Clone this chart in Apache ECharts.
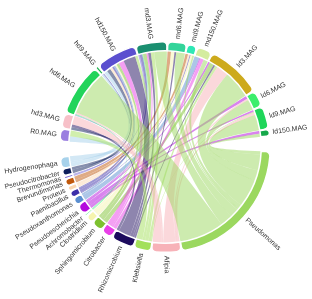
<!DOCTYPE html>
<html><head><meta charset="utf-8">
<script src="https://cdn.jsdelivr.net/npm/echarts@6/dist/echarts.min.js"></script>
<style>html,body{margin:0;padding:0;background:#fff}#c{width:312px;height:299px}</style>
</head><body><div id="c"></div>
<script>
const samples = ['R0.MAG','hd3.MAG','hd6.MAG','hd9.MAG','hd150.MAG','md3.MAG','md6.MAG','md9.MAG','md150.MAG','ld3.MAG','ld6.MAG','ld9.MAG','ld150.MAG'];
const sampleColors = ['#9b7fe0','#f7c0c8','#22d45a','#21b350','#5b4fcf','#1a8f70','#33d49a','#2de8b5','#d4ec9f','#cdaa1c','#3bee6b','#1fd65a','#15a84a'];
const genera = ['Pseudomonas','Afipia','Klebsiella','Rhizomicrobium','Citrobacter','Sphingomicrobium','Clostridium','Achromobacter','Pseudoescherichia','Pseudoxanthomonas','Paenibacillus','Proteus','Brevundimonas','Thermomonas','Pseudocitrobacter','Hydrogenophaga'];
const genusColors = ['#9bd85f','#f7b2b8','#a3e05b','#1d0b5e','#e93fe8','#7dc12f','#f6f4ae','#3deb7b','#b40ade','#5a8ed0','#3b2fa9','#fbd7b0','#c0580b','#7c6dd7','#0d1f5c','#a7d2eb'];
// rows: samples, columns: genera (same order as above)
const abundance = [
  [0, 0, 3.5, 0, 0, 0, 0, 0, 0, 0, 0, 0, 0, 0, 0, 3],
  [0, 5, 0, 1.5, 0, 0, 0, 0, 0, 0, 0, 0, 0, 0, 1.5, 0],
  [25.5, 1, 0, 0, 0, 0, 0, 0.5, 0, 0, 0, 0, 0, 0.5, 0, 0],
  [0, 0, 0, 0, 0, 0, 0, 0, 0, 0, 0.5, 0, 0, 0, 0, 1],
  [0, 0, 1.5, 7, 3, 1.5, 1, 0, 0, 1, 1, 1.5, 0, 0, 2, 2],
  [7.2, 0, 2, 1.5, 1, 2, 0, 0.5, 0, 0, 1.5, 0, 0, 0.8, 0, 0],
  [5, 0, 0, 1, 0, 0, 2, 0, 0, 0, 0, 0, 2, 0, 0, 0],
  [1, 0, 0, 0, 0, 0, 1, 0, 0, 0, 0.5, 1, 1.5, 0, 0, 0],
  [2.5, 0, 0, 0, 2, 0, 0, 0, 0.5, 3, 0, 0, 0, 0, 0, 0],
  [16, 7, 1.5, 1, 0, 2.5, 0, 0, 1, 0, 0, 0, 0, 0, 0, 0],
  [6, 1, 0, 0, 0, 0, 0, 0, 1.5, 0, 0, 0, 0, 0, 0, 0],
  [9, 1.5, 0.5, 0, 0, 0, 0, 0, 1, 0, 0, 0, 0, 0, 0, 0],
  [1.9, 0, 0, 0, 0, 0, 0, 0, 1.5, 0, 0, 0, 0, 0, 0, 0]
];
const gapSize = 7.5;

const chart = echarts.init(document.getElementById('c'), null, {renderer: 'canvas'});

const nodes = [];
genera.forEach((g, i) => nodes.push({name: g, itemStyle: {color: genusColors[i]}}));
nodes.push({name: '_gapA', itemStyle: {color: 'rgba(255,255,255,0)', borderWidth: 0}});
samples.forEach((s, i) => nodes.push({name: s, itemStyle: {color: sampleColors[i]}}));
nodes.push({name: '_gapB', itemStyle: {color: 'rgba(255,255,255,0)', borderWidth: 0}});

const links = [];
for (let s = samples.length - 1; s >= 0; s--) {
  for (let g = genera.length - 1; g >= 0; g--) {
    const v = abundance[s][g];
    if (v > 0) links.push({source: samples[s], target: genera[g], value: v});
  }
}
links.push({source: '_gapA', target: '_gapB', value: gapSize, lineStyle: {opacity: 0}});

const CX = 165, CY = 147, R0 = 96.25, R1 = 105.3, PAD = 0.4, START = -2.6;

chart.setOption({
  animation: false,
  series: [{
    type: 'chord',
    center: [CX, CY],
    radius: [R0, R1],
    startAngle: START,
    clockwise: true,
    padAngle: PAD,
    minAngle: 0,
    itemStyle: {borderColor: '#fff', borderWidth: 1.5},
    lineStyle: {color: 'target', opacity: 0.5, borderWidth: 0},
    label: {show: false},
    emphasis: {disabled: true},
    data: nodes,
    links: links
  }]
});

// labels placed radially at each node's mid angle
function nodeAngles() {
  try {
    const d = chart.getModel().getSeriesByIndex(0).getData();
    const out = [];
    d.each(idx => {
      const l = d.getItemLayout(idx);
      out.push({name: d.getName(idx), mid: (l.startAngle + l.endAngle) / 2, r: l.r, cx: l.cx, cy: l.cy});
    });
    if (out.length && isFinite(out[0].mid)) return out;
  } catch (e) {}
  const vals = nodes.map(n => 0);
  const idxOf = {};
  nodes.forEach((n, i) => idxOf[n.name] = i);
  links.forEach(l => { vals[idxOf[l.source]] += l.value; vals[idxOf[l.target]] += l.value; });
  const total = vals.reduce((a, b) => a + b, 0);
  const pad = PAD * Math.PI / 180;
  const unit = (Math.PI * 2 - pad * nodes.length) / total;
  let a = -START * Math.PI / 180;
  return nodes.map((n, i) => { const s = a; const e = a + vals[i] * unit; a = e + pad;
    return {name: n.name, mid: (s + e) / 2, r: R1, cx: CX, cy: CY}; });
}

const texts = [];
nodeAngles().forEach(n => {
  if (n.name.charAt(0) === '_') return;
  const rr = n.r + 3.5;
  const c = Math.cos(n.mid), s = Math.sin(n.mid);
  const right = c >= 0;
  texts.push({
    type: 'text',
    x: n.cx + rr * c,
    y: n.cy + rr * s,
    rotation: right ? -n.mid : Math.PI - n.mid,
    style: {
      text: n.name,
      fill: '#333',
      font: '7px "Liberation Sans", Arial, sans-serif',
      align: right ? 'left' : 'right',
      verticalAlign: 'middle'
    },
    silent: true
  });
});
chart.setOption({graphic: {elements: texts}});
</script>
</body></html>
